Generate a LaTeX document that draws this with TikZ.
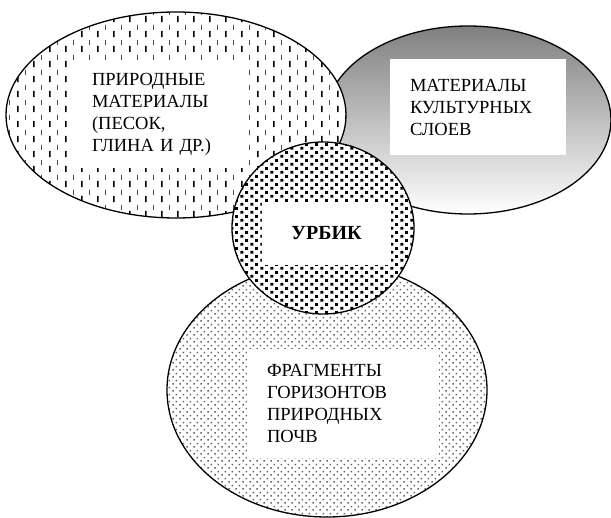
\documentclass[tikz,border=0pt]{standalone}
\usepackage{fontspec}
\setmainfont{Liberation Serif}
\usepackage{tikz}
\usetikzlibrary{shapes,arrows,positioning,patterns,patterns.meta}

% fill patterns of the three soils
\tikzdeclarepattern{
  name=vdashes, type=colored,
  bottom left={(0pt,0pt)}, top right={(16pt,15pt)},
  tile size={(16pt,15pt)},
  code={\draw[line width=1.8pt, black] (2pt,1pt) -- (2pt,7.5pt);
        \draw[line width=0.9pt, black!70] (10pt,8.5pt) -- (10pt,14pt);}
}
\tikzdeclarepattern{
  name=checks, type=uncolored,
  bottom left={(0pt,0pt)}, top right={(10pt,8pt)},
  tile size={(10pt,8pt)},
  code={\fill (0.5pt,0.5pt) rectangle (3.6pt,3.6pt) (5.5pt,4.5pt) rectangle (8.6pt,7.6pt);}
}
\tikzdeclarepattern{
  name=fdots, type=uncolored,
  bottom left={(0pt,0pt)}, top right={(6.6pt,6.6pt)},
  tile size={(6.6pt,6.6pt)},
  code={\fill (0.5pt,0.5pt) rectangle (2.1pt,2.1pt) (3.8pt,3.8pt) rectangle (5.4pt,5.4pt);}
}

\begin{document}
\begin{tikzpicture}[x=1pt, y=-1pt,
        blob/.style={ellipse, draw, line width=1.3pt, inner sep=0pt, preaction={fill=white}},
        txtbox/.style={rectangle, fill=white, align=left, inner ysep=0pt, font=\fontsize{18.5}{22}\selectfont}
    ]
        \useasboundingbox (0,0) rectangle (611,518);

        % Cultural layers
        \node[blob, minimum width=286pt, minimum height=188pt, top color=black!50, bottom color=white] (cult) at (468,120) {};
        \node[txtbox, minimum height=96pt, text width=136pt, inner xsep=20pt] (cultlbl) at (478,107) {МАТЕРИАЛЫ\\КУЛЬТУРНЫХ\\СЛОЕВ};

        % Natural materials
        \node[blob, minimum width=340pt, minimum height=206pt, pattern=vdashes] (nat) at (176,115) {};
        \node[txtbox, minimum height=108pt, text width=131pt, inner xsep=25pt] (natlbl) at (157.5,114) {ПРИРОДНЫЕ\\МАТЕРИАЛЫ\\(ПЕСОК,\\ГЛИНА И ДР.)};

        % Natural soil horizons
        \node[blob, minimum width=320pt, minimum height=254pt, pattern=fdots, pattern color=black!60] (soil) at (327,390) {};
        \node[txtbox, minimum height=109pt, text width=152pt, inner xsep=20pt] (soillbl) at (343,403.5) {ФРАГМЕНТЫ\\ГОРИЗОНТОВ\\ПРИРОДНЫХ\\ПОЧВ};

        % Urbic in the middle
        \node[blob, minimum width=182pt, minimum height=172pt, pattern=checks, pattern color=black] (urb) at (323,228) {};
        \node[txtbox, minimum width=129pt, minimum height=63pt, align=center, font=\fontsize{20}{24}\selectfont\bfseries] (urblbl) at (326.5,233.5) {УРБИК};
    \end{tikzpicture}
\end{document}
